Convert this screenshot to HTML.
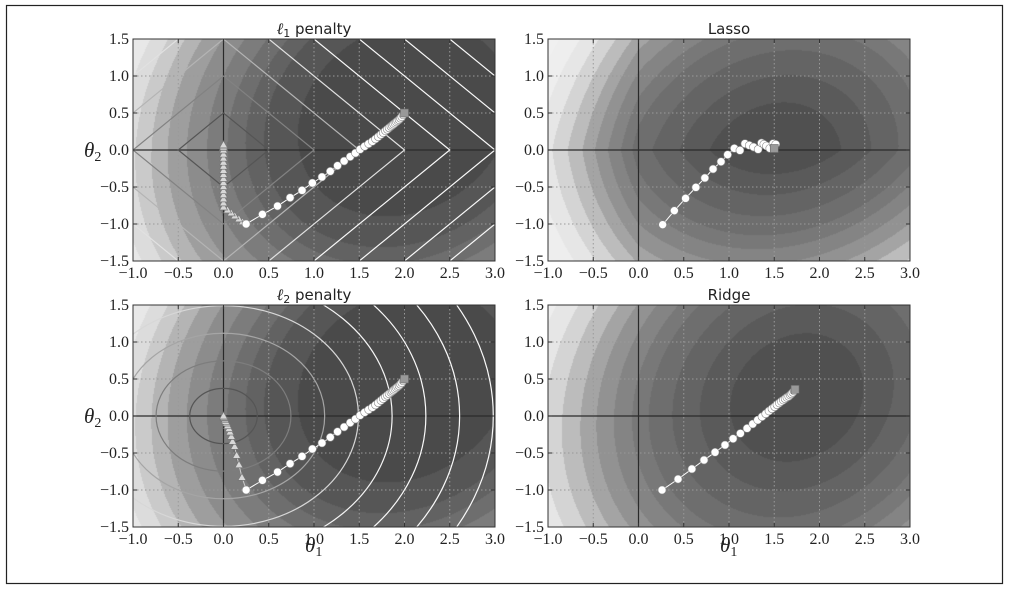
<!DOCTYPE html>
<html><head><meta charset="utf-8">
<style>
html,body{margin:0;padding:0;background:#fff;overflow:hidden;width:1010px;height:589px;}
#wrap{position:relative;width:1010px;height:589px;overflow:hidden;}
canvas{position:absolute;}
svg{position:absolute;left:0;top:0;}
.tk{font-family:"Liberation Serif",serif;font-size:16px;fill:#222;}
.tt{font-family:"DejaVu Sans","Liberation Sans",sans-serif;font-size:15px;fill:#222;}
.ax{font-family:"Liberation Serif",serif;font-size:21px;font-style:italic;fill:#222;}
</style></head>
<body>
<div id="wrap">
<canvas id="c0" width="362" height="222" style="left:133px;top:39px"></canvas>
<canvas id="c1" width="362" height="222" style="left:548px;top:39px"></canvas>
<canvas id="c2" width="362" height="222" style="left:133px;top:305px"></canvas>
<canvas id="c3" width="362" height="222" style="left:548px;top:305px"></canvas>
<svg id="s" width="1010" height="589"></svg>
</div>
<script>
// ---- data ----
const xTicks = [-1.0,-0.5,0.0,0.5,1.0,1.5,2.0,2.5,3.0];
const yTicks = [-1.5,-1.0,-0.5,0.0,0.5,1.0,1.5];
const titles = ["penalty1","Lasso","penalty2","Ridge"];
const levelsJ = [1.35,2.34,3.0,3.72,4.62,5.62,6.66,7.6,8.6,9.7,11.0];
const graysJ = [74,86,98,110,124,140,158,180,202,220,232,238];
const levelsR = [0.53,1.12,1.85,2.62,3.24,4.0,4.8,5.6,6.6,7.7,9.0,10.5];
const graysR = [80,90,100,110,120,132,146,164,188,212,230,238,240];
const lassoWeight = [0.85];
const lassoScale = [1.0];
const l1Levels = [0.5,1.0,1.5,2.0,2.5,3.0,3.5,4.0,4.5];
const l1LevelGrays = [85,130,180,225,250,250,250,250,250];
const l2Levels = [0.373,0.745,1.118,1.491,1.863,2.236,2.609,2.981,3.354];
const l2LevelGrays = [85,125,165,215,245,250,250,250,250];
const pathJ_t1 = [0.25,0.43,0.597,0.736,0.868,0.982,1.088,1.18,1.26,1.333,1.40,1.458,1.509,1.56,1.604,1.645,1.68,1.71,1.74,1.765,1.79,1.81,1.83,1.85,1.865,1.88,1.895,1.91,1.925,1.94,1.955,1.97,1.985,2.0];
const pathJ_t2 = [-1.0,-0.87,-0.757,-0.644,-0.545,-0.446,-0.365,-0.288,-0.212,-0.149,-0.09,-0.041,0.009,0.05,0.085,0.117,0.15,0.18,0.21,0.235,0.26,0.28,0.30,0.32,0.335,0.35,0.365,0.38,0.395,0.41,0.43,0.45,0.475,0.5];
const triL1_t1 = [0.25,0.21,0.17,0.125,0.085,0.045,0.0,0,0,0,0,0,0,0,0,0,0,0,0,0,0,0,0,0];
const triL1_t2 = [-1.0,-0.97,-0.93,-0.89,-0.85,-0.81,-0.77,-0.715,-0.66,-0.605,-0.55,-0.495,-0.44,-0.385,-0.33,-0.275,-0.22,-0.165,-0.11,-0.055,0.0,0.035,0.055,0.07];
const triL2_t1 = [0.256,0.204,0.171,0.145,0.123,0.1,0.087,0.072,0.061,0.046,0.035,0.024,0.017,0.01,0.005,0.0];
const triL2_t2 = [-1.01,-0.829,-0.658,-0.532,-0.41,-0.342,-0.275,-0.216,-0.171,-0.131,-0.095,-0.072,-0.05,-0.027,-0.015,0.0];
const lasso_t1 = [0.267,0.396,0.52,0.634,0.733,0.824,0.912,0.985,1.059,1.121,1.176,1.224,1.271,1.322,1.359,1.385,1.414,1.451,1.487,1.516];
const lasso_t2 = [-1.009,-0.82,-0.653,-0.505,-0.378,-0.257,-0.158,-0.063,0.022,-0.005,0.086,0.063,0.04,0.009,0.095,0.077,0.054,0.022,0.086,0.077];
const ridge_t1 = [0.26,0.437,0.59,0.724,0.846,0.956,1.045,1.126,1.2,1.262,1.317,1.365,1.406,1.442,1.475,1.505,1.53,1.556,1.578,1.6,1.62,1.64,1.66,1.676,1.69,1.705,1.72];
const ridge_t2 = [-1.0,-0.853,-0.716,-0.595,-0.49,-0.392,-0.307,-0.235,-0.167,-0.108,-0.054,-0.009,0.031,0.068,0.099,0.126,0.153,0.176,0.198,0.216,0.234,0.252,0.266,0.284,0.3,0.32,0.34];
const minima_t1 = [2.0,1.5,2.0,1.73];
const minima_t2 = [0.5,0.02,0.5,0.36];

const panels = [{l:133,t:39},{l:548,t:39},{l:133,t:305},{l:548,t:305}];
const W=362,H=222;
function sx(p,v){return p.l+(v+1)/4*W;}
function sy(p,v){return p.t+(1.5-v)/3*H;}
function J(a,b){const d1=a-2,d2=b-0.42;return d1*d1-0.3*d1*d2+0.8*d2*d2;}
function R(a,b){const d1=a-1.75,d2=b-0.25;return d1*d1-0.25*d1*d2+0.72*d2*d2;}
function L(a,b){return J(a,b)+lassoWeight[0]*(Math.abs(a)+Math.abs(b));}
const specs=[[J,levelsJ,graysJ,1],[L,levelsR,graysR,lassoScale[0]],[J,levelsJ,graysJ,1],[R,levelsR,graysR,1]];
specs.forEach((s,i)=>{
  const f=s[0],lev=s[1],grs=s[2],sc=s[3];
  const cv=document.getElementById('c'+i),ctx=cv.getContext('2d');
  let mn=1e9;
  for(let y=0;y<=H;y+=1)for(let x=0;x<=W;x+=1){const v=f(-1+x/W*4,1.5-y/H*3);if(v<mn)mn=v;}
  const img=ctx.createImageData(W,H);
  for(let y=0;y<H;y++)for(let x=0;x<W;x++){
    const v=(f(-1+(x+0.5)/W*4,1.5-(y+0.5)/H*3)-mn)/sc;
    let k=0;while(k<lev.length&&v>lev[k])k++;
    const g=grs[k];const o=(y*W+x)*4;
    img.data[o]=g;img.data[o+1]=g;img.data[o+2]=g;img.data[o+3]=255;
  }
  ctx.putImageData(img,0,0);
});
const NS='http://www.w3.org/2000/svg';
const svg=document.getElementById('s');
function mk(tag,attrs,parent){const e=document.createElementNS(NS,tag);for(const k in attrs)e.setAttribute(k,attrs[k]);(parent||svg).appendChild(e);return e;}
const frame=mk('rect',{x:6.5,y:5.5,width:996,height:578,fill:'none',stroke:'#222','stroke-width':1.2});


const defs=mk('defs',{});
panels.forEach((p,i)=>{
  const cp=mk('clipPath',{id:'cp'+i},defs);
  mk('rect',{x:p.l,y:p.t,width:W,height:H},cp);
  const g=mk('g',{});
  
  
  const cg=mk('g',{'clip-path':'url(#cp'+i+')'},g);
  xTicks.forEach(v=>{const x=sx(p,v);const ln=mk('line',{x1:x,x2:x,y1:p.t,y2:p.t+H,stroke:'#999','stroke-dasharray':'1.5,2.5','stroke-width':1},cg);
    
    });
  yTicks.forEach(v=>{const y=sy(p,v);const ln=mk('line',{x1:p.l,x2:p.l+W,y1:y,y2:y,stroke:'#999','stroke-dasharray':'1.5,2.5','stroke-width':1},cg);
    
    });
  const a1=mk('line',{x1:sx(p,0),x2:sx(p,0),y1:p.t,y2:p.t+H,stroke:'#2a2a2a','stroke-width':1.2},cg);
  
  
  const a2=mk('line',{x1:p.l,x2:p.l+W,y1:sy(p,0),y2:sy(p,0),stroke:'#2a2a2a','stroke-width':1.2},cg);
  
  
  if(i===0){l1Levels.forEach((r,k)=>{const c='rgb('+l1LevelGrays[k]+','+l1LevelGrays[k]+','+l1LevelGrays[k]+')';
    const d=mk('polygon',{points:[[r,0],[0,r],[-r,0],[0,-r]].map(q=>sx(p,q[0])+','+sy(p,q[1])).join(' '),fill:'none',stroke:c,'stroke-width':1.2},cg);
    
    });}
  if(i===2){l2Levels.forEach((r,k)=>{const c='rgb('+l2LevelGrays[k]+','+l2LevelGrays[k]+','+l2LevelGrays[k]+')';
    const e=mk('ellipse',{cx:sx(p,0),cy:sy(p,0),rx:r*W/4,ry:r*H/3,fill:'none',stroke:c,'stroke-width':1.2},cg);
    
    });}
  function tri(t1,t2){
    mk('polyline',{points:t1.map((v,j)=>sx(p,v)+','+sy(p,t2[j])).join(' '),fill:'none',stroke:'#ccc','stroke-width':1},cg);
    t1.forEach((v,j)=>{const x=sx(p,v),y=sy(p,t2[j]);
      const m=mk('polygon',{points:(x)+','+(y-4)+' '+(x-4)+','+(y+3)+' '+(x+4)+','+(y+3),fill:'#d8d8d8',stroke:'#777','stroke-width':0.7},cg);
      
      });
  }
  function circ(t1,t2){
    mk('polyline',{points:t1.map((v,j)=>sx(p,v)+','+sy(p,t2[j])).join(' '),fill:'none',stroke:'#fff','stroke-width':1},cg);
    t1.forEach((v,j)=>{
      const m=mk('circle',{cx:sx(p,v),cy:sy(p,t2[j]),r:4,fill:'#fff',stroke:'#888','stroke-width':0.6},cg);
      
      });
  }
  if(i===0){tri(triL1_t1,triL1_t2);circ(pathJ_t1,pathJ_t2);}
  if(i===1){circ(lasso_t1,lasso_t2);}
  if(i===2){tri(triL2_t1,triL2_t2);circ(pathJ_t1,pathJ_t2);}
  if(i===3){circ(ridge_t1,ridge_t2);}
  const sq=mk('rect',{x:sx(p,minima_t1[i])-4,y:sy(p,minima_t2[i])-4,width:8,height:8,fill:'#999',stroke:'#666','stroke-width':0.6},cg);
  
  
  const fr=mk('rect',{x:p.l,y:p.t,width:W,height:H,fill:'none',stroke:'#333','stroke-width':1},g);
  
  
  xTicks.forEach(v=>{const x=sx(p,v);
    mk('line',{x1:x,x2:x,y1:p.t+H,y2:p.t+H-4,stroke:'#333'},g);
    mk('line',{x1:x,x2:x,y1:p.t,y2:p.t+4,stroke:'#333'},g);
    const t=mk('text',{x:x,y:p.t+H+17,'text-anchor':'middle',class:'tk'},g);
    t.textContent=(v<0?'\u2212':'')+Math.abs(v).toFixed(1);
    
    });
  yTicks.forEach(v=>{const y=sy(p,v);
    mk('line',{x1:p.l,x2:p.l+4,y1:y,y2:y,stroke:'#333'},g);
    mk('line',{x1:p.l+W,x2:p.l+W-4,y1:y,y2:y,stroke:'#333'},g);
    const t=mk('text',{x:p.l-4,y:y+5,'text-anchor':'end',class:'tk'},g);
    t.textContent=(v<0?'\u2212':'')+Math.abs(v).toFixed(1);
    
    });
  const tt=mk('text',{x:p.l+W/2,y:p.t-5,'text-anchor':'middle',class:'tt'},g);
  if(i===0||i===2){
    const a=mk('tspan',{'font-family':'Liberation Serif,serif','font-style':'italic','font-size':'16'},tt);a.textContent='\u2113';
    const b=mk('tspan',{'font-size':'11',dy:'3'},tt);b.textContent=(i===0?'1':'2');
    const c=mk('tspan',{dy:'-3'},tt);c.textContent=' penalty';
  } else tt.textContent=titles[i];
  
  
});
[[84,157],[84,423]].forEach(q=>{const t=mk('text',{x:q[0],y:q[1],class:'ax'});
  t.textContent='\u03b8';const s=mk('tspan',{'font-size':'14',dy:'4','font-style':'normal'},t);s.textContent='2';
  
  });
[[305,552],[720,552]].forEach(q=>{const t=mk('text',{x:q[0],y:q[1],class:'ax'});
  t.textContent='\u03b8';const s=mk('tspan',{'font-size':'14',dy:'4','font-style':'normal'},t);s.textContent='1';
  
  });
</script>
</body></html>
